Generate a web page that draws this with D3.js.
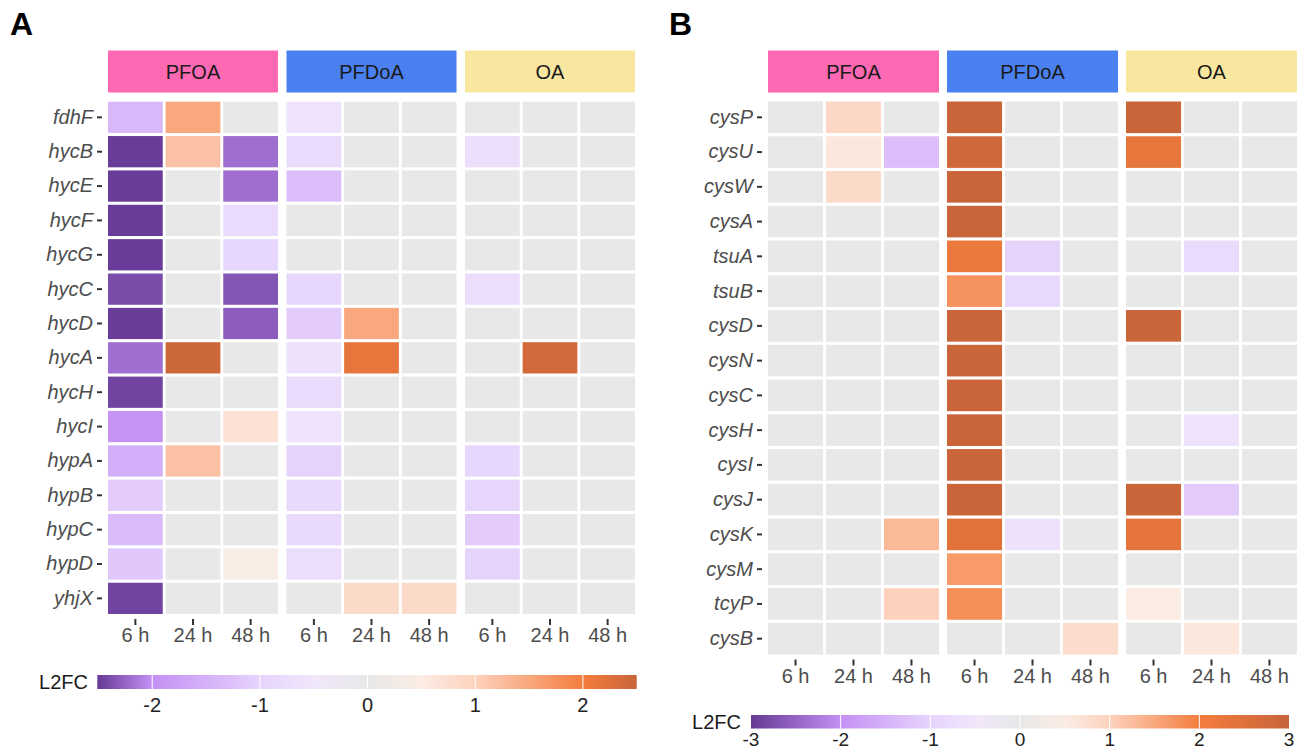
<!DOCTYPE html>
<html>
<head>
<meta charset="utf-8">
<script src="https://cdn.jsdelivr.net/npm/d3@7"></script>
<style>
  body { margin: 0; background: #fff; }
  svg text { font-family: "Liberation Sans", Arial, Helvetica, sans-serif; }
</style>
</head>
<body>
<svg id="chart" width="1306" height="750"></svg>
<script>
// Facets and time points
const treatments = ["PFOA", "PFDoA", "OA"];
const times = ["6 h", "24 h", "48 h"];
const strip_colors = ["#ff69b4", "#4a80ef", "#f9e79f"];

// Panel A: hydrogenase genes, L2FC per treatment x time (PFOA 6/24/48, PFDoA 6/24/48, OA 6/24/48)
const genes_A = ["fdhF", "hycB", "hycE", "hycF", "hycG", "hycC", "hycD", "hycA",
                 "hycH", "hycI", "hypA", "hypB", "hypC", "hypD", "yhjX"];
const l2fc_A = [
  [-1.4, 1.5, 0,     -0.6, 0, 0,       0, 0, 0],
  [-2.5, 1.2, -2.2,  -0.8, 0, 0,    -0.7, 0, 0],
  [-2.5, 0, -2.2,    -1.3, 0, 0,       0, 0, 0],
  [-2.5, 0, -0.8,       0, 0, 0,       0, 0, 0],
  [-2.5, 0, -0.9,       0, 0, 0,       0, 0, 0],
  [-2.4, 0, -2.35,   -0.9, 0, 0,   -0.75, 0, 0],
  [-2.5, 0, -2.3,    -1.1, 1.5, 0,     0, 0, 0],
  [-2.2, 2.45, 0,   -0.65, 2.15, 0,    0, 2.4, 0],
  [-2.45, 0, 0,      -0.8, 0, 0,       0, 0, 0],
  [-1.95, 0, 0.7,    -0.6, 0, 0,       0, 0, 0],
  [-1.55, 1.2, 0,    -1.0, 0, 0,    -0.9, 0, 0],
  [-1.1, 0, 0,      -0.85, 0, 0,   -0.95, 0, 0],
  [-1.35, 0, 0,     -0.85, 0, 0,    -1.1, 0, 0],
  [-1.2, 0, 0.45,   -0.75, 0, 0,    -1.0, 0, 0],
  [-2.45, 0, 0,         0, 0.85, 0.85, 0, 0, 0]
];

// Panel B: sulfur assimilation genes
const genes_B = ["cysP", "cysU", "cysW", "cysA", "tsuA", "tsuB", "cysD", "cysN",
                 "cysC", "cysH", "cysI", "cysJ", "cysK", "cysM", "tcyP", "cysB"];
const l2fc_B = [
  [0, 0.9, 0,      2.95, 0, 0,      2.95, 0, 0],
  [0, 0.6, -1.3,   2.85, 0, 0,      2.3, 0, 0],
  [0, 0.85, 0,     2.95, 0, 0,      0, 0, 0],
  [0, 0, 0,        2.95, 0, 0,      0, 0, 0],
  [0, 0, 0,        2.2, -1.0, 0,    0, -0.8, 0],
  [0, 0, 0,        1.75, -0.85, 0,  0, 0, 0],
  [0, 0, 0,        2.95, 0, 0,      2.95, 0, 0],
  [0, 0, 0,        2.95, 0, 0,      0, 0, 0],
  [0, 0, 0,        2.95, 0, 0,      0, 0, 0],
  [0, 0, 0,        2.95, 0, 0,      0, -0.6, 0],
  [0, 0, 0,        2.95, 0, 0,      0, 0, 0],
  [0, 0, 0,        2.95, 0, 0,      2.95, -1.1, 0],
  [0, 0, 1.3,      2.45, -0.65, 0,  2.35, 0, 0],
  [0, 0, 0,        1.65, 0, 0,      0, 0, 0],
  [0, 0, 1.0,      1.8, 0, 0,       0.5, 0, 0],
  [0, 0, 0,        0, 0, 0.8,       0, 0.6, 0]
];

// Legend breaks and limits
const limits_A = [-2.51, 2.5];
const limits_B = [-3, 3];
const legend_ticks_A = [-2, -1, 0, 1, 2];
const legend_ticks_B = [-3, -2, -1, 0, 1, 2, 3];

// Diverging palette (purple - grey - orange), inner stops by value
const pal_stops = [-2, -1, -0.5, 0, 0.5, 1, 2];
const pal_colors = ["#c490f5", "#e6d3fc", "#f1e7fb", "#e8e8e8", "#fbece4", "#fdd2bd", "#f47d3e"];
const pal_low = "#663a96", pal_high = "#c8643a";

const svg = d3.select("#chart");
const defs = svg.append("defs");

function makeColor(limits) {
  return d3.scaleLinear()
    .domain([limits[0], ...pal_stops, limits[1]])
    .range([pal_low, ...pal_colors, pal_high])
    .interpolate(d3.interpolateRgb)
    .clamp(true);
}

function styleAxis(g) {
  g.select(".domain").remove();
  g.selectAll(".tick line").attr("stroke", "#333").attr("stroke-width", 2);
  g.selectAll(".tick text").attr("fill", "#4d4d4d");
}

function drawHeatmap(cfg) {
  const color = makeColor(cfg.limits);
  const g = svg.append("g");

  // panel letter
  g.append("text")
    .attr("x", cfg.labelX).attr("y", 35)
    .style("font-size", "32px").style("font-weight", "bold")
    .text(cfg.label);

  const y = d3.scaleBand().domain(cfg.genes).range([cfg.top, cfg.bottom]).paddingInner(0.09);

  treatments.forEach((tr, ti) => {
    const px = cfg.x0 + ti * (cfg.panelW + cfg.gap);
    const x = d3.scaleBand().domain(times).range([px, px + cfg.panelW]).paddingInner(0.05);

    // strip
    g.append("rect")
      .attr("x", px).attr("y", 50.5)
      .attr("width", cfg.panelW).attr("height", 42)
      .attr("fill", strip_colors[ti]);
    g.append("text")
      .attr("x", px + cfg.panelW / 2).attr("y", 72)
      .attr("text-anchor", "middle").attr("dominant-baseline", "central")
      .attr("fill", "#1a1a1a")
      .style("font-size", "20px")
      .text(tr);

    // tiles
    const cells = [];
    cfg.genes.forEach((gene, gi) => {
      times.forEach((t, k) => cells.push({ gene, t, v: cfg.values[gi][ti * 3 + k] }));
    });
    g.append("g").selectAll("rect")
      .data(cells)
      .join("rect")
      .attr("x", d => x(d.t))
      .attr("y", d => y(d.gene))
      .attr("width", x.bandwidth())
      .attr("height", y.bandwidth())
      .attr("fill", d => color(d.v));

    // x axis
    g.append("g")
      .attr("transform", `translate(0,${cfg.bottom + 5})`)
      .call(d3.axisBottom(x).tickSize(6).tickPadding(3))
      .call(styleAxis)
      .selectAll(".tick text")
      .style("font-size", "20px")
      .style("font-family", "Liberation Sans, Arial, sans-serif");
  });

  // y axis (gene names)
  g.append("g")
    .attr("transform", `translate(${cfg.x0 - 6},0)`)
    .call(d3.axisLeft(y).tickSize(5).tickPadding(4))
    .call(styleAxis)
    .selectAll(".tick text")
    .style("font-size", "20px")
    .style("font-style", "italic")
    .style("font-family", "Liberation Sans, Arial, sans-serif");

  // colour bar legend
  const L = cfg.legend;
  const lx = d3.scaleLinear().domain(cfg.limits).range([L.x0, L.x1]);
  const gradId = "grad" + cfg.label;
  const grad = defs.append("linearGradient").attr("id", gradId)
    .attr("x1", "0%").attr("x2", "100%").attr("y1", "0%").attr("y2", "0%");
  d3.range(0, 1.0001, 0.01).forEach(f => {
    const v = cfg.limits[0] + f * (cfg.limits[1] - cfg.limits[0]);
    grad.append("stop").attr("offset", (f * 100) + "%").attr("stop-color", color(v));
  });
  g.append("rect")
    .attr("x", L.x0).attr("y", L.y)
    .attr("width", L.x1 - L.x0).attr("height", L.h)
    .attr("fill", `url(#${gradId})`);
  g.append("g").selectAll("line")
    .data(cfg.ticks.filter(t => t > cfg.limits[0] && t < cfg.limits[1]))
    .join("line")
    .attr("x1", d => lx(d)).attr("x2", d => lx(d))
    .attr("y1", L.y).attr("y2", L.y + L.h)
    .attr("stroke", "#fff").attr("stroke-width", 1);
  g.append("g").selectAll("text")
    .data(cfg.ticks)
    .join("text")
    .attr("x", d => lx(d)).attr("y", L.labelY)
    .attr("text-anchor", "middle").attr("dominant-baseline", "central")
    .attr("fill", "#222")
    .style("font-size", L.fs)
    .text(d => d);
  g.append("text")
    .attr("x", L.titleX).attr("y", L.y + L.h / 2)
    .attr("text-anchor", "end").attr("dominant-baseline", "central")
    .attr("fill", "#1a1a1a")
    .style("font-size", "20px")
    .text("L2FC");
}

drawHeatmap({
  label: "A", labelX: 10,
  genes: genes_A, values: l2fc_A,
  x0: 108, panelW: 170, gap: 8.5, top: 101.7, bottom: 614,
  limits: limits_A, ticks: legend_ticks_A,
  legend: { x0: 97.3, x1: 636.7, y: 675, h: 14, labelY: 705, titleX: 88, fs: "20px" }
});

drawHeatmap({
  label: "B", labelX: 669,
  genes: genes_B, values: l2fc_B,
  x0: 768, panelW: 171, gap: 8, top: 101.5, bottom: 654.5,
  limits: limits_B, ticks: legend_ticks_B,
  legend: { x0: 751, x1: 1289, y: 715, h: 13.5, labelY: 739, titleX: 741, fs: "19px" }
});
</script>
</body>
</html>
